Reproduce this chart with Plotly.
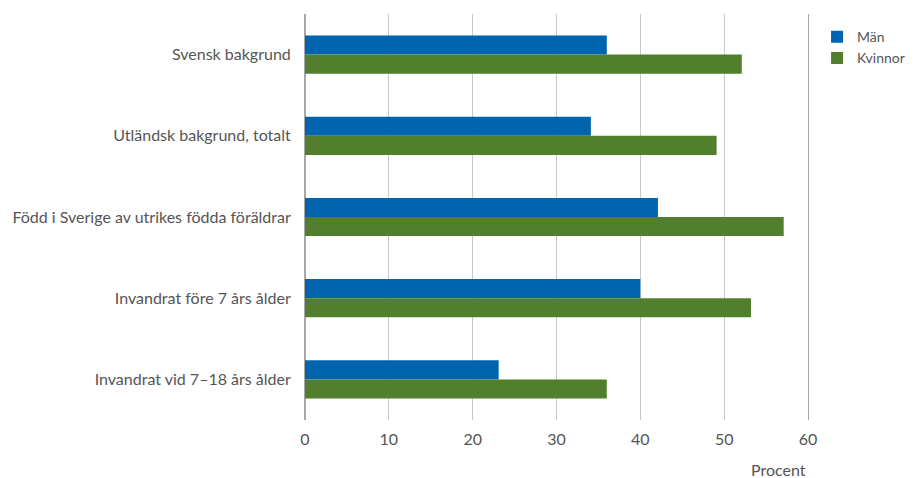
import plotly.graph_objects as go

categories = [
    "Svensk bakgrund",
    "Utländsk bakgrund, totalt",
    "Född i Sverige av utrikes födda föräldrar",
    "Invandrat före 7 års ålder",
    "Invandrat vid 7–18 års ålder",
]
man = [36.0, 34.1, 42.1, 40.0, 23.1]
kvinnor = [52.1, 49.1, 57.1, 53.2, 36.0]
x_ticks = [0, 10, 20, 30, 40, 50, 60]

FONT = "Lato"
TXT = "#555555"

fig = go.Figure()
fig.add_trace(go.Bar(y=categories, x=man, orientation="h", name="Män",
                     marker=dict(color="#0064AE", line=dict(width=0))))
fig.add_trace(go.Bar(y=categories, x=kvinnor, orientation="h", name="Kvinnor",
                     marker=dict(color="#527F2D", line=dict(width=0))))

# page body has an 8px margin, so the figure is sized 906x470
fig.update_layout(
    width=906, height=470,
    margin=dict(l=297, r=106, t=6, b=58, autoexpand=False),
    paper_bgcolor="white", plot_bgcolor="white",
    barmode="group", bargap=0.53, bargroupgap=0,
    font=dict(family=FONT, size=16, color=TXT),
    legend=dict(xref="container", yref="container", x=0.893, y=0.972,
                xanchor="left", yanchor="top",
                font=dict(size=14, color=TXT), tracegroupgap=0),
    xaxis=dict(range=[0, 60], tickvals=x_ticks, showgrid=True,
               gridcolor="#c8c8c8", gridwidth=1, zeroline=True,
               zerolinecolor="#a8a8a8", zerolinewidth=1, automargin=False,
               showline=False, ticks="", ticklabelstandoff=8,
               tickfont=dict(size=16, color=TXT)),
    yaxis=dict(autorange="reversed", showgrid=False, zeroline=False,
               showline=True, mirror=True, linecolor="#a8a8a8", linewidth=1,
               ticks="", ticklabelstandoff=10, automargin=False,
               tickfont=dict(size=16, color=TXT)),
    annotations=[dict(text="Procent", x=(778 - 305) / (808 - 305),
                      y=-0.123, xref="paper", yref="paper",
                      showarrow=False, xanchor="center", yanchor="middle",
                      font=dict(size=16, color=TXT))],
)

fig.write_html("out.html")
